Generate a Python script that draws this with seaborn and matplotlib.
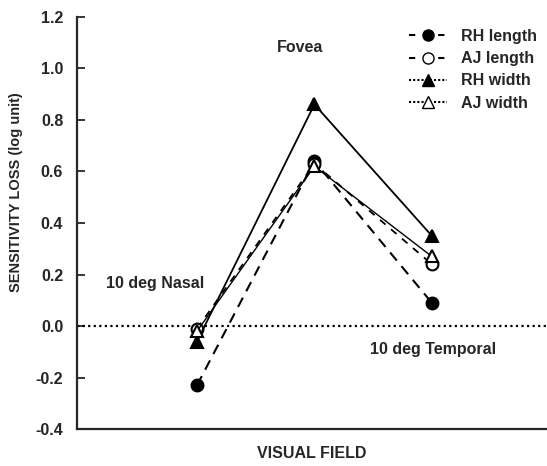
import numpy as np
import pandas as pd
import matplotlib
matplotlib.use("Agg")
import matplotlib.pyplot as plt
from matplotlib.lines import Line2D
import seaborn as sns

# Data
fields = ["10 deg Nasal", "Fovea", "10 deg Temporal"]
field_pos = [0, 1, 2]
rh_length = [-0.23, 0.64, 0.09]
aj_length = [-0.01, 0.63, 0.24]
rh_width = [-0.06, 0.86, 0.35]
aj_width = [-0.02, 0.62, 0.27]
series_names = ["RH length", "AJ length", "RH width", "AJ width"]
y_ticks = [-0.4, -0.2, 0.0, 0.2, 0.4, 0.6, 0.8, 1.0, 1.2]

sns.set_style("ticks")
plt.rcParams["font.family"] = ["Liberation Sans", "DejaVu Sans"]
plt.rcParams["font.weight"] = "bold"

df = pd.DataFrame({
    "pos": field_pos * 4,
    "loss": rh_length + aj_length + rh_width + aj_width,
    "series": np.repeat(series_names, 3),
})

fig = plt.figure(figsize=(5.47, 4.66), dpi=100)
ax = fig.add_axes([0.141, 0.079, 0.859, 0.885])

# zero reference line
ax.axhline(0, color="black", lw=1.6, ls=(0, (1, 1.5)), zorder=1)

styles = {
    "RH length": dict(marker="o", mfc="black", ls=(0, (5, 3.5)), lw=1.5),
    "AJ length": dict(marker="o", mfc="white", ls=(0, (4, 4)), lw=1.3),
    "RH width": dict(marker="^", mfc="black", ls="-", lw=1.3),
    "AJ width": dict(marker="^", mfc="white", ls="-", lw=1.0),
}
for name in series_names:
    sub = df[df["series"] == name]
    st = styles[name]
    sns.lineplot(data=sub, x="pos", y="loss", ax=ax, color="black",
                 marker=st["marker"], markersize=8.5, markerfacecolor=st["mfc"],
                 markeredgecolor="black", markeredgewidth=1.5,
                 linestyle=st["ls"], linewidth=st["lw"], zorder=3)

ax.set_xlim(-1.02, 2.98)
ax.set_ylim(-0.4, 1.2)
ax.set_yticks(y_ticks)
ax.set_yticklabels([f"{v:.1f}" for v in y_ticks], fontsize=11.5, fontweight="bold")
ax.set_xticks([])
ax.tick_params(axis="y", direction="in", length=6, width=1.3, pad=10)
ax.set_xlabel("VISUAL FIELD", fontsize=11.5, fontweight="bold", labelpad=12)
ax.set_ylabel("SENSITIVITY LOSS (log unit)", fontsize=10.5, fontweight="bold")
ax.yaxis.set_label_coords(-0.115, 0.575)
for side in ["top", "right"]:
    ax.spines[side].set_visible(False)
for side in ["left", "bottom"]:
    ax.spines[side].set_linewidth(1.6)

# field annotations
ax.text(field_pos[1] - 0.12, 1.08, fields[1], fontsize=11.5, fontweight="bold", ha="center", va="center")
ax.text(0.06, 0.165, fields[0], fontsize=11.5, fontweight="bold", ha="right", va="center")
ax.text(1.47, -0.09, fields[2], fontsize=11.5, fontweight="bold", ha="left", va="center")

handles = [
    Line2D([], [], color="black", marker="o", mfc="black", mec="black", ls=(0, (3, 4)), lw=1.5, markersize=8),
    Line2D([], [], color="black", marker="o", mfc="white", mec="black", ls=(0, (3, 4)), lw=1.5, markersize=8),
    Line2D([], [], color="black", marker="^", mfc="black", mec="black", ls=(0, (1, 1)), lw=1.5, markersize=8),
    Line2D([], [], color="black", marker="^", mfc="white", mec="black", ls=(0, (1, 1)), lw=1.5, markersize=8),
]
leg = ax.legend(handles, series_names, loc="upper right", bbox_to_anchor=(1.01, 1.005),
                frameon=False, handlelength=2.4, handletextpad=0.9, labelspacing=0.45,
                prop={"family": "Liberation Sans", "weight": "bold", "size": 11.5})

fig.savefig("out.png", dpi=100)
